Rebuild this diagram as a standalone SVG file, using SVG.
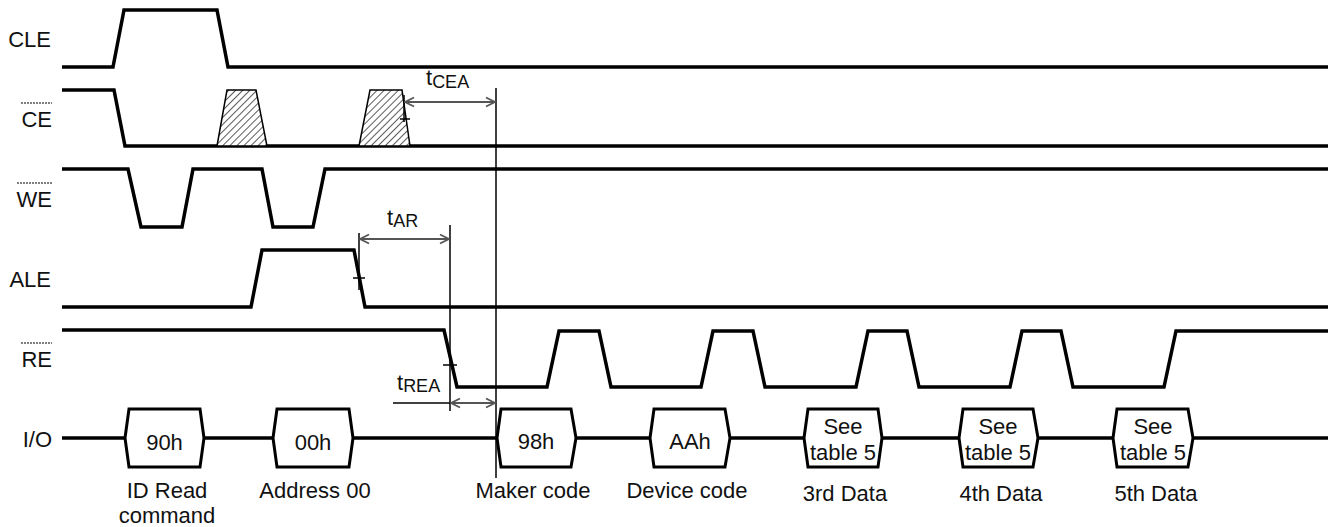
<svg xmlns="http://www.w3.org/2000/svg" width="1328" height="527" viewBox="0 0 1328 527">
<style>
.sig{fill:none;stroke:#000;stroke-width:3.5;stroke-linejoin:miter}
.box{fill:#fff;stroke:#000;stroke-width:3}
.thin{fill:none;stroke:#000;stroke-width:1.5}
.ovl{fill:none;stroke:#000;stroke-width:1.2;stroke-dasharray:2 1}
.arr{fill:none;stroke:#555;stroke-width:1.8;marker-start:url(#ah);marker-end:url(#ah)}
.hatch{fill:url(#hp);stroke:#000;stroke-width:1.5}
text{font-family:"Liberation Sans",Arial,sans-serif;font-size:22px;fill:#111}
.lbl{text-anchor:end}
.ctr{text-anchor:middle}
.sub{font-size:18px}
</style>
<defs>
<pattern id="hp" patternUnits="userSpaceOnUse" width="5" height="5" patternTransform="rotate(45)">
<rect width="5" height="5" fill="#fff"/>
<line x1="0" y1="0" x2="0" y2="5" stroke="#222" stroke-width="1.5"/>
</pattern>
<marker id="ah" viewBox="-11 -6 12 12" markerWidth="12" markerHeight="12" refX="0" refY="0" orient="auto-start-reverse" markerUnits="userSpaceOnUse">
<path d="M-9,-4.5 L0,0 L-9,4.5" fill="none" stroke="#555" stroke-width="1.8"/>
</marker>
</defs>

<g id="labels">
<text class="lbl" x="51" y="47">CLE</text>
<text class="lbl" x="52" y="127">CE</text>
<line class="ovl" x1="21" y1="103" x2="52" y2="103"/>
<text class="lbl" x="52" y="207">WE</text>
<line class="ovl" x1="17" y1="183" x2="52" y2="183"/>
<text class="lbl" x="51" y="287">ALE</text>
<text class="lbl" x="52" y="367">RE</text>
<line class="ovl" x1="21" y1="343" x2="52" y2="343"/>
<text class="lbl" x="52" y="447">I/O</text>
</g>

<g id="CLE">
<path class="sig" d="M62,67 H113 L124,10 H217 L228,67 H1328"/>
</g>

<g id="CE">
<path class="sig" d="M62,90 H114 L125,146 H1328"/>
<polygon class="hatch" points="217,146 227,90 256,90 267,146"/>
<polygon class="hatch" points="359,146 370,90 402,90 410,146"/>
</g>

<g id="WE">
<path class="sig" d="M62,169 H128 L141,227 H182 L193,169 H262 L273,227 H313 L325,169 H1328"/>
</g>

<g id="ALE">
<path class="sig" d="M62,307 H251 L262,250 H354 L365,307 H1328"/>
</g>

<g id="RE">
<path class="sig" d="M62,330 H444 L457,387 H547 L559,331 H599 L611,387 H701 L713,331 H753 L765,387 H856 L868,331 H907 L919,387 H1010 L1022,331 H1061 L1073,387 H1164 L1176,331 H1328"/>
</g>

<g id="IO">
<path class="sig" d="M62,438 H1328"/>
<g id="b90h"><polygon class="box" points="125,438 129,409 200,409 204,438 200,467 129,467"/><text class="ctr" x="164.5" y="450">90h</text></g>
<g id="b00h"><polygon class="box" points="273,438 277,409 349,409 353,438 349,467 277,467"/><text class="ctr" x="313" y="450">00h</text></g>
<g id="b98h"><polygon class="box" points="497,438 501,409 571,409 576,438 571,467 501,467"/><text class="ctr" x="536" y="449">98h</text></g>
<g id="bAAh"><polygon class="box" points="650,438 654,409 725,409 730,438 725,467 654,467"/><text class="ctr" x="690" y="449">AAh</text></g>
<g id="b3"><polygon class="box" points="804,438 808,409 878,409 882,438 878,467 808,467"/><text class="ctr" x="843" y="434">See</text><text class="ctr" x="843" y="460">table 5</text></g>
<g id="b4"><polygon class="box" points="959,438 963,409 1033,409 1038,438 1033,467 963,467"/><text class="ctr" x="998" y="434">See</text><text class="ctr" x="998" y="460">table 5</text></g>
<g id="b5"><polygon class="box" points="1113,438 1117,409 1188,409 1193,438 1188,467 1117,467"/><text class="ctr" x="1153" y="434">See</text><text class="ctr" x="1153" y="460">table 5</text></g>
</g>

<g id="captions">
<text class="ctr" x="167" y="498">ID Read</text>
<text class="ctr" x="167" y="523">command</text>
<text class="ctr" x="315" y="498">Address 00</text>
<text class="ctr" x="533" y="498">Maker code</text>
<text class="ctr" x="687" y="498">Device code</text>
<text class="ctr" x="845" y="501">3rd Data</text>
<text class="ctr" x="1001" y="501">4th Data</text>
<text class="ctr" x="1156" y="501">5th Data</text>
</g>

<g id="connectors">
<line class="thin" x1="496" y1="88" x2="496" y2="478"/>
<line class="thin" x1="450" y1="225" x2="450" y2="411"/>
<line class="thin" x1="404" y1="95" x2="404" y2="122"/>
<line class="thin" x1="400" y1="119" x2="410" y2="119"/>
<line class="thin" x1="359" y1="233" x2="359" y2="290"/>
<line class="thin" x1="353" y1="278" x2="365" y2="278"/>
<line class="thin" x1="443" y1="365" x2="457" y2="365"/>
<line class="thin" x1="393" y1="403" x2="450" y2="403"/>
<line class="arr" x1="405" y1="102" x2="495" y2="102"/>
<line class="arr" x1="360" y1="239" x2="449" y2="239"/>
<line class="arr" x1="451" y1="403" x2="495" y2="403"/>
</g>

<g id="timing-labels">
<text x="426" y="85">t<tspan class="sub" dy="3">CEA</tspan></text>
<text x="387" y="225">t<tspan class="sub" dy="2">AR</tspan></text>
<text x="397" y="390">t<tspan class="sub" dy="2">REA</tspan></text>
</g>
</svg>
